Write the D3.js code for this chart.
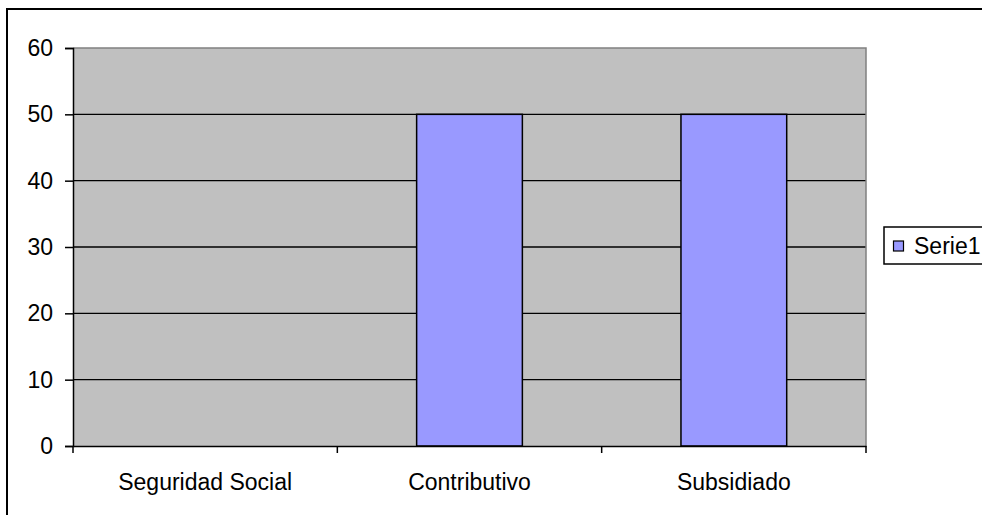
<!DOCTYPE html>
<html><head><meta charset="utf-8">
<script src="https://cdn.jsdelivr.net/npm/d3@7"></script>
<style>html,body{margin:0;padding:0;background:#fff;overflow:hidden}</style>
</head><body>
<svg id="c" width="982" height="515"></svg>
<script>
const categories = ["Seguridad Social", "Contributivo", "Subsidiado"];
const values = [0, 50, 50];
const yTicks = [0, 10, 20, 30, 40, 50, 60];
const seriesName = "Serie1";

const svg = d3.select("#c");
const font = "Arial, 'Liberation Sans', sans-serif";
const fs = 23;
const L = 73, R = 866, T = 48, B = 446;

// outer frame
svg.append("rect").attr("x", 7).attr("y", 9).attr("width", 1100).attr("height", 600)
  .attr("fill", "#fff").attr("stroke", "#000").attr("stroke-width", 2);

const x = d3.scaleBand().domain(categories).range([L, R]).padding(0);
const y = d3.scaleLinear().domain([0, 60]).range([B, T]);

// plot area
svg.append("rect").attr("x", L).attr("y", T).attr("width", R - L).attr("height", B - T)
  .attr("fill", "#C0C0C0");
// gridlines
svg.append("g").selectAll("line").data(yTicks.filter(d => d > 0 && d < 60)).join("line")
  .attr("x1", L).attr("x2", R).attr("y1", d => y(d)).attr("y2", d => y(d))
  .attr("stroke", "#000").attr("stroke-width", 1.3);
// gray border top/right
svg.append("path").attr("d", `M${L},${T}H${R}V${B}`).attr("fill", "none")
  .attr("stroke", "#808080").attr("stroke-width", 1.5);

// bars
const bw = x.bandwidth() * 0.4;
svg.append("g").selectAll("rect").data(values).join("rect")
  .attr("x", (d, i) => x(categories[i]) + x.bandwidth() / 2 - bw / 2)
  .attr("width", bw)
  .attr("y", d => y(d))
  .attr("height", d => y(0) - y(d))
  .attr("fill", "#9999FF").attr("stroke", "#000").attr("stroke-width", 1.5)
  .style("display", d => d > 0 ? null : "none");

// y axis
const yAxis = d3.axisLeft(y).tickValues(yTicks).tickSize(8).tickPadding(12).tickFormat(d3.format("d"));
const gy = svg.append("g").attr("transform", `translate(${L},0)`).call(yAxis);
gy.select(".domain").attr("stroke", "#000").attr("stroke-width", 1.5);
gy.selectAll(".tick line").attr("stroke", "#000").attr("stroke-width", 1.5);
gy.selectAll("text").attr("font-family", font).attr("font-size", fs).attr("fill", "#000");

// x axis
const gx = svg.append("g").attr("transform", `translate(0,${B})`)
  .call(d3.axisBottom(x).tickSize(0).tickPadding(28));
gx.select(".domain").attr("stroke", "#000").attr("stroke-width", 1.5);
gx.selectAll("text").attr("font-family", font).attr("font-size", fs).attr("fill", "#000");
// boundary ticks
const bounds = categories.map(c => x(c)).concat([R]);
gx.append("g").selectAll("line").data(bounds).join("line")
  .attr("x1", d => d).attr("x2", d => d).attr("y1", 0).attr("y2", 7)
  .attr("stroke", "#000").attr("stroke-width", 1.5);

// legend
const lg = svg.append("g");
lg.append("rect").attr("x", 884).attr("y", 227).attr("width", 200).attr("height", 37)
  .attr("fill", "#fff").attr("stroke", "#000").attr("stroke-width", 1.5);
lg.append("rect").attr("x", 893.5).attr("y", 241).attr("width", 10).attr("height", 10)
  .attr("fill", "#9999FF").attr("stroke", "#000").attr("stroke-width", 1.2);
lg.append("text").attr("x", 914).attr("y", 254).text(seriesName)
  .attr("font-family", font).attr("font-size", fs).attr("fill", "#000");
</script>
</body></html>
